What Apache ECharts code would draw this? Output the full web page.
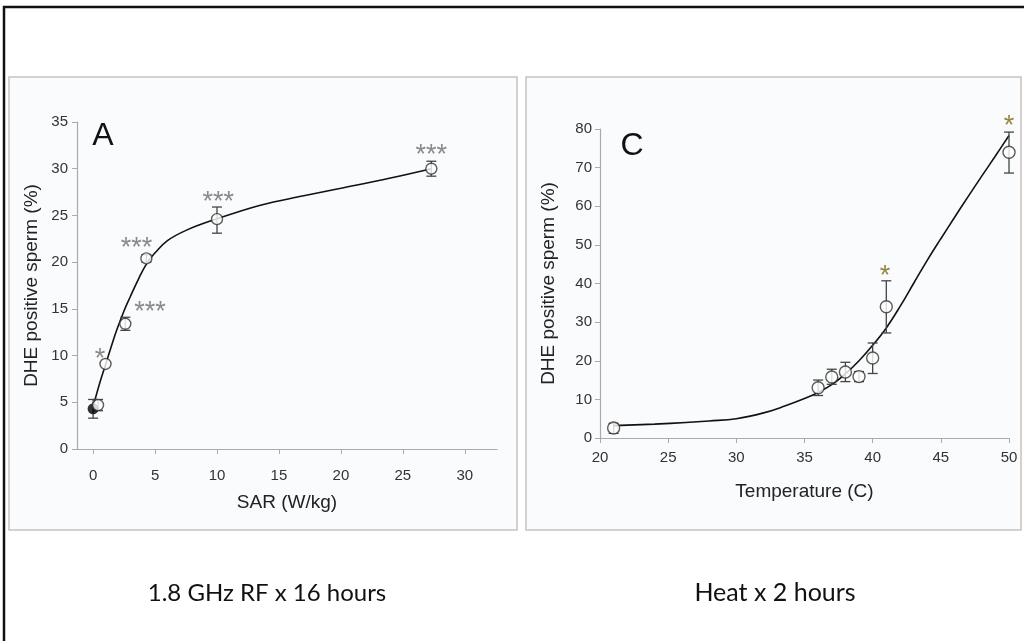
<!DOCTYPE html>
<html><head><meta charset="utf-8">
<script src="https://cdn.jsdelivr.net/npm/echarts@6/dist/echarts.min.js"></script>
<style>html,body{margin:0;padding:0;background:#fff}#c{width:1024px;height:641px}</style>
</head><body><div id="c"></div>
<script>
// ---- Panel A: 1.8 GHz RF x 16 hours ----
const sarTicks = [0, 5, 10, 15, 20, 25, 30];
const aOpenPoints = [[0.4, 4.7], [1.0, 9.1], [2.6, 13.4], [4.3, 20.4], [10.0, 24.6], [27.3, 30.0]];
const aOpenErr = [[0.4, 4.1, 5.3], [2.6, 12.7, 14.1], [4.3, 20.0, 20.8], [10.0, 23.1, 25.9], [27.3, 29.2, 30.8]];
const aControl = [[0.0, 4.3]];
const aControlErr = [[0.0, 3.3, 5.3]];
const aCurve = [[0, 4.5], [0.5, 6.9], [1.0, 9.0], [1.5, 11.1], [1.9, 12.7], [2.5, 14.8], [3.0, 16.3], [3.7, 18.3], [4.35, 19.9], [5.0, 21.0], [6.0, 22.3], [7.5, 23.4], [9.7, 24.5], [13.5, 26.1], [17.0, 27.1], [20.0, 27.9], [24.0, 29.0], [27.3, 30.0]];
const aStars = [[0.55, 10.3, '*'], [4.6, 15.4, '***'], [3.5, 22.2, '***'], [10.1, 27.1, '***'], [27.3, 32.2, '***']];

// ---- Panel C: Heat x 2 hours ----
const tempPoints = [[21, 2.6], [36, 13.0], [37, 15.8], [38, 17.1], [39, 15.9], [40, 20.7], [41, 34.0], [50, 74.0]];
const tempErr = [[21, 1.2, 3.8], [36, 11.0, 15.0], [37, 13.9, 17.8], [38, 14.6, 19.6], [39, 14.6, 17.2], [40, 16.7, 24.6], [41, 27.2, 40.7], [50, 68.6, 79.2]];
const cCurve = [[21, 3.2], [24, 3.6], [26.3, 4.0], [28, 4.4], [30, 5.0], [32, 6.5], [33.5, 8.2], [35, 10.2], [36, 11.8], [37, 13.8], [38, 16.6], [39, 20.0], [40, 24.0], [41, 28.5], [42, 34.0], [43, 40.0], [44, 46.0], [45, 51.6], [46, 57.1], [47, 62.5], [48, 67.8], [49, 73.0], [50, 78.3]];
const cStars = [[40.9, 43.5, '*'], [50, 82.4, '*']];

const FF = '"Liberation Sans", Arial, Helvetica, sans-serif';
const tickFont = {color: '#333', fontSize: 15, fontFamily: FF};
const nameFont = {color: '#222', fontSize: 19, fontFamily: FF};

function errRender(params, api) {
  const x = api.value(0);
  const lo = api.coord([x, api.value(1)]);
  const hi = api.coord([x, api.value(2)]);
  const w = 5;
  const st = {stroke: '#444', lineWidth: 1.3};
  return {type: 'group', children: [
    {type: 'line', shape: {x1: lo[0], y1: lo[1], x2: hi[0], y2: hi[1]}, style: st},
    {type: 'line', shape: {x1: lo[0] - w, y1: lo[1], x2: lo[0] + w, y2: lo[1]}, style: st},
    {type: 'line', shape: {x1: hi[0] - w, y1: hi[1], x2: hi[0] + w, y2: hi[1]}, style: st}
  ]};
}
function starSeries(arr, xi, color) {
  return {type: 'scatter', xAxisIndex: xi, yAxisIndex: xi, symbolSize: 1, clip: false, itemStyle: {color: 'rgba(0,0,0,0)'}, z: 10,
    data: arr.map(s => ({value: [s[0], s[1]], label: {formatter: s[2]}})),
    label: {show: true, position: 'inside', offset: [0, 7], color: color, fontSize: 27, fontFamily: FF},
    silent: true};
}
const openStyle = {color: '#fff', borderColor: '#333', borderWidth: 1.4};

const chart = echarts.init(document.getElementById('c'), null, {renderer: 'canvas'});
chart.setOption({
  animation: false,
  backgroundColor: '#fff',
  graphic: [
    {type: 'rect', shape: {x: 4, y: 7, width: 1030, height: 650}, style: {fill: 'none', stroke: '#111', lineWidth: 2.5}, z: -10},
    {type: 'rect', shape: {x: 9, y: 77, width: 508, height: 453}, style: {fill: '#fafbfd', stroke: '#c9c2bf', lineWidth: 1.5}, z: -9},
    {type: 'rect', shape: {x: 526, y: 77, width: 495, height: 453}, style: {fill: '#fafbfd', stroke: '#c9c2bf', lineWidth: 1.5}, z: -9},
    {type: 'text', style: {text: 'A', x: 103, y: 136, fill: '#111', fontSize: 32, fontFamily: FF, align: 'center', verticalAlign: 'middle'}},
    {type: 'text', style: {text: 'C', x: 632, y: 146, fill: '#111', fontSize: 32, fontFamily: FF, align: 'center', verticalAlign: 'middle'}},
    {type: 'text', style: {text: '1.8 GHz RF x 16 hours', x: 267, y: 593, fill: '#111', fontSize: 24, fontFamily: 'Lato, sans-serif', align: 'center', verticalAlign: 'middle'}},
    {type: 'text', style: {text: 'Heat x 2 hours', x: 775, y: 593, fill: '#111', fontSize: 25, fontFamily: 'Lato, sans-serif', align: 'center', verticalAlign: 'middle'}}
  ],
  grid: [
    {left: 77, right: 527, top: 122, bottom: 192},
    {left: 600, right: 15, top: 129, bottom: 203}
  ],
  xAxis: [
    {gridIndex: 0, type: 'value', min: -1.3, max: 32.6, splitLine: {show: false},
      axisLine: {lineStyle: {color: '#aaa', width: 1.2}},
      axisTick: {length: 5, lineStyle: {color: '#aaa'}, customValues: sarTicks},
      axisLabel: Object.assign({margin: 19, customValues: sarTicks}, tickFont),
      name: 'SAR (W/kg)', nameLocation: 'middle', nameGap: 44, nameTextStyle: nameFont},
    {gridIndex: 1, type: 'value', min: 20, max: 50, interval: 5, splitLine: {show: false},
      axisLine: {lineStyle: {color: '#aaa', width: 1.2}},
      axisTick: {length: 5, lineStyle: {color: '#aaa'}},
      axisLabel: Object.assign({margin: 12}, tickFont),
      name: 'Temperature (C)', nameLocation: 'middle', nameGap: 44, nameTextStyle: nameFont}
  ],
  yAxis: [
    {gridIndex: 0, type: 'value', min: 0, max: 35, interval: 5, splitLine: {show: false},
      axisLine: {show: true, onZero: false, lineStyle: {color: '#aaa', width: 1.2}},
      axisTick: {show: true, length: 5, lineStyle: {color: '#aaa'}},
      axisLabel: Object.assign({margin: 9}, tickFont),
      name: 'DHE positive sperm (%)', nameLocation: 'middle', nameGap: 36, nameTextStyle: nameFont},
    {gridIndex: 1, type: 'value', min: 0, max: 80, interval: 10, splitLine: {show: false},
      axisLine: {show: true, onZero: false, lineStyle: {color: '#aaa', width: 1.2}},
      axisTick: {show: true, length: 5, lineStyle: {color: '#aaa'}},
      axisLabel: Object.assign({margin: 8}, tickFont),
      name: 'DHE positive sperm (%)', nameLocation: 'middle', nameGap: 42, nameTextStyle: nameFont}
  ],
  series: [
    {type: 'line', xAxisIndex: 0, yAxisIndex: 0, data: aCurve, smooth: 0.4, showSymbol: false, lineStyle: {color: '#111', width: 1.6}, z: 2},
    {type: 'custom', xAxisIndex: 0, yAxisIndex: 0, data: aControlErr, renderItem: errRender, z: 3},
    {type: 'custom', xAxisIndex: 0, yAxisIndex: 0, data: aOpenErr, renderItem: errRender, z: 3},
    {type: 'scatter', xAxisIndex: 0, yAxisIndex: 0, data: aControl, symbolSize: 11, itemStyle: {color: '#000'}, z: 4},
    {type: 'scatter', xAxisIndex: 0, yAxisIndex: 0, data: aOpenPoints, symbolSize: 11, itemStyle: openStyle, z: 5},
    starSeries(aStars, 0, '#6e6e6e'),
    {type: 'line', xAxisIndex: 1, yAxisIndex: 1, data: cCurve, smooth: 0.4, showSymbol: false, lineStyle: {color: '#111', width: 1.6}, z: 2},
    {type: 'custom', xAxisIndex: 1, yAxisIndex: 1, data: tempErr, renderItem: errRender, z: 3},
    {type: 'scatter', xAxisIndex: 1, yAxisIndex: 1, data: tempPoints, symbolSize: 12, itemStyle: openStyle, z: 5},
    starSeries(cStars, 1, '#7d6a12')
  ]
});
</script></body></html>
